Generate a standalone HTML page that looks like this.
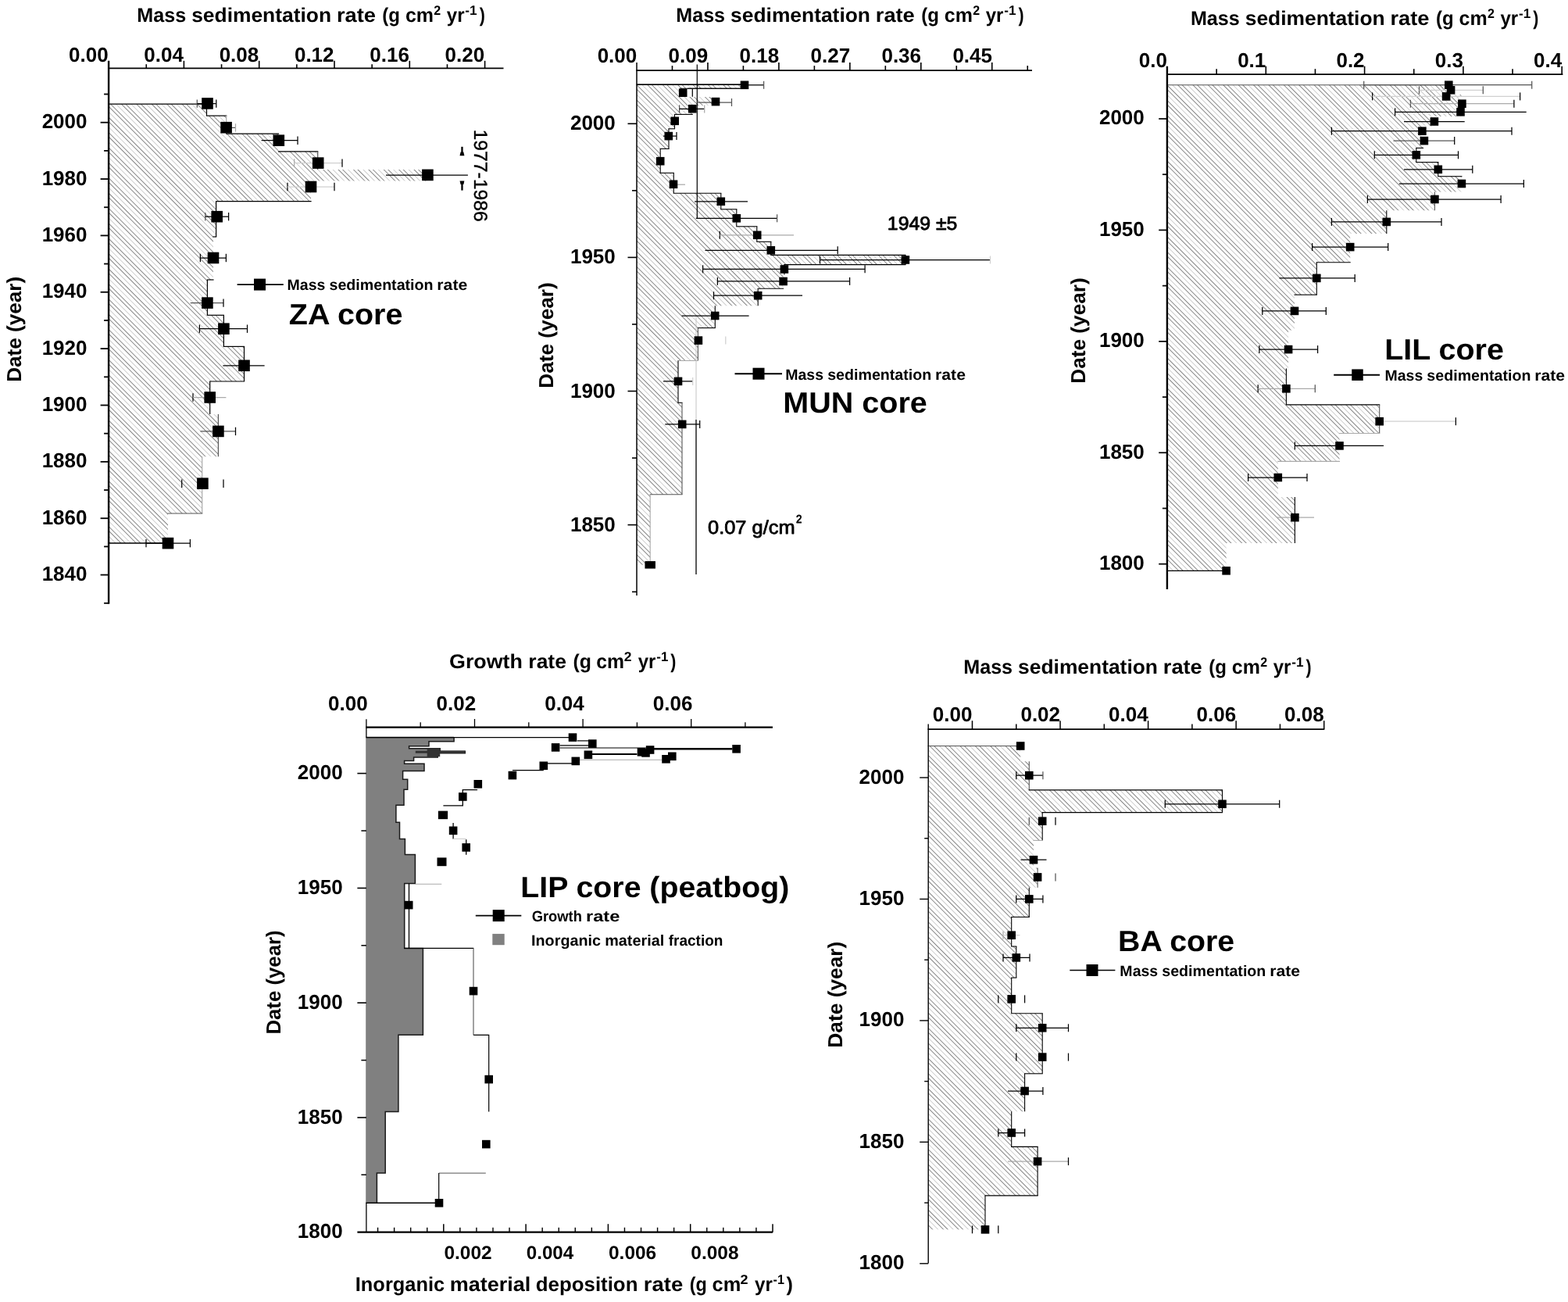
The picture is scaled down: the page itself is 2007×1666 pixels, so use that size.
<!DOCTYPE html>
<html lang="en"><head><meta charset="utf-8"><title>Sedimentation rate profiles</title>
<style>html,body{margin:0;padding:0;background:#fff;overflow:hidden;}svg{display:block;}text{font-family:"Liberation Sans",sans-serif;}</style></head>
<body>
<svg width="2007" height="1666" viewBox="0 0 2007 1666" font-family='"Liberation Sans", sans-serif' shape-rendering="auto" text-rendering="geometricPrecision"><defs><pattern id="h1" width="13.71" height="13.71" patternUnits="userSpaceOnUse" patternTransform="rotate(-45) translate(1.5 0)"><rect x="0" y="0" width="0.6" height="13.71" fill="#383838"/><rect x="4.3" y="0" width="0.6" height="13.71" fill="#383838"/><rect x="9" y="0" width="0.25" height="13.71" fill="#383838"/></pattern></defs>
<polygon points="139.1,133.2 264.5,133.2 264.5,148.1 289.7,148.1 289.7,171.2 356.5,171.2 356.5,193.9 406.7,193.9 406.7,217 547.5,217 547.5,231.4 398,231.4 398,257.7 276.6,257.7 276.6,303 273,303 273,358 265.4,358 265.4,403.3 286.4,403.3 286.4,443.4 312.5,443.4 312.5,488 268.7,488 268.7,530 279.4,530 279.4,584.3 258.7,584.3 258.7,657 215,657 215,695 139.1,695" fill="url(#h1)"/>
<line x1="138.5" y1="133.2" x2="265.1" y2="133.2" stroke="#000" stroke-width="1.2"/>
<line x1="264.5" y1="133.2" x2="264.5" y2="148.1" stroke="#000" stroke-width="1.2"/>
<line x1="263.9" y1="148.1" x2="290.3" y2="148.1" stroke="#000" stroke-width="1.2"/>
<line x1="289.7" y1="148.1" x2="289.7" y2="171.2" stroke="#aaa" stroke-width="1.2"/>
<line x1="289.1" y1="171.2" x2="357.1" y2="171.2" stroke="#000" stroke-width="1.2"/>
<line x1="355.9" y1="193.9" x2="407.3" y2="193.9" stroke="#000" stroke-width="1.2"/>
<line x1="406.7" y1="193.9" x2="406.7" y2="217" stroke="#555" stroke-width="1.2"/>
<line x1="276" y1="257.7" x2="398.6" y2="257.7" stroke="#000" stroke-width="1.2"/>
<line x1="276.6" y1="257.7" x2="276.6" y2="303" stroke="#000" stroke-width="1.2"/>
<line x1="272.4" y1="303" x2="277.2" y2="303" stroke="#000" stroke-width="1.2"/>
<line x1="264.8" y1="358" x2="273.6" y2="358" stroke="#000" stroke-width="1.2"/>
<line x1="265.4" y1="358" x2="265.4" y2="403.3" stroke="#000" stroke-width="1.2"/>
<line x1="264.8" y1="403.3" x2="287" y2="403.3" stroke="#000" stroke-width="1.2"/>
<line x1="286.4" y1="403.3" x2="286.4" y2="443.4" stroke="#000" stroke-width="1.2"/>
<line x1="285.8" y1="443.4" x2="313.1" y2="443.4" stroke="#000" stroke-width="1.2"/>
<line x1="312.5" y1="443.4" x2="312.5" y2="488" stroke="#000" stroke-width="1.2"/>
<line x1="268.1" y1="488" x2="313.1" y2="488" stroke="#000" stroke-width="1.2"/>
<line x1="268.7" y1="488" x2="268.7" y2="530" stroke="#000" stroke-width="1.2"/>
<line x1="279.4" y1="530" x2="279.4" y2="584.3" stroke="#555" stroke-width="1.2"/>
<line x1="258.7" y1="584.3" x2="258.7" y2="657" stroke="#aaa" stroke-width="1.2"/>
<line x1="214.4" y1="657" x2="259.3" y2="657" stroke="#555" stroke-width="1.2"/>
<line x1="139.1" y1="695" x2="215" y2="695" stroke="#000" stroke-width="1.3"/>
<line x1="139.1" y1="77.8" x2="139.1" y2="772.7" stroke="#000" stroke-width="2.4"/>
<line x1="128.6" y1="156.7" x2="139.1" y2="156.7" stroke="#000" stroke-width="1.8"/>
<line x1="128.6" y1="229.06" x2="139.1" y2="229.06" stroke="#000" stroke-width="1.8"/>
<line x1="128.6" y1="301.42" x2="139.1" y2="301.42" stroke="#000" stroke-width="1.8"/>
<line x1="128.6" y1="373.78" x2="139.1" y2="373.78" stroke="#000" stroke-width="1.8"/>
<line x1="128.6" y1="446.14" x2="139.1" y2="446.14" stroke="#000" stroke-width="1.8"/>
<line x1="128.6" y1="518.5" x2="139.1" y2="518.5" stroke="#000" stroke-width="1.8"/>
<line x1="128.6" y1="590.86" x2="139.1" y2="590.86" stroke="#000" stroke-width="1.8"/>
<line x1="128.6" y1="663.22" x2="139.1" y2="663.22" stroke="#000" stroke-width="1.8"/>
<line x1="128.6" y1="735.58" x2="139.1" y2="735.58" stroke="#000" stroke-width="1.8"/>
<line x1="133.1" y1="120.5" x2="139.1" y2="120.5" stroke="#000" stroke-width="1.8"/>
<line x1="133.1" y1="192.88" x2="139.1" y2="192.88" stroke="#000" stroke-width="1.8"/>
<line x1="133.1" y1="265.24" x2="139.1" y2="265.24" stroke="#000" stroke-width="1.8"/>
<line x1="133.1" y1="337.6" x2="139.1" y2="337.6" stroke="#000" stroke-width="1.8"/>
<line x1="133.1" y1="409.96" x2="139.1" y2="409.96" stroke="#000" stroke-width="1.8"/>
<line x1="133.1" y1="482.32" x2="139.1" y2="482.32" stroke="#000" stroke-width="1.8"/>
<line x1="133.1" y1="554.68" x2="139.1" y2="554.68" stroke="#000" stroke-width="1.8"/>
<line x1="133.1" y1="627.04" x2="139.1" y2="627.04" stroke="#000" stroke-width="1.8"/>
<line x1="133.1" y1="699.4" x2="139.1" y2="699.4" stroke="#000" stroke-width="1.8"/>
<line x1="133.1" y1="771.8" x2="139.1" y2="771.8" stroke="#000" stroke-width="1.8"/>
<text x="111.5" y="164.2" font-size="26" font-weight="bold" text-anchor="end" fill="#000">2000</text>
<text x="111.5" y="236.56" font-size="26" font-weight="bold" text-anchor="end" fill="#000">1980</text>
<text x="111.5" y="308.92" font-size="26" font-weight="bold" text-anchor="end" fill="#000">1960</text>
<text x="111.5" y="381.28" font-size="26" font-weight="bold" text-anchor="end" fill="#000">1940</text>
<text x="111.5" y="453.64" font-size="26" font-weight="bold" text-anchor="end" fill="#000">1920</text>
<text x="111.5" y="526" font-size="26" font-weight="bold" text-anchor="end" fill="#000">1900</text>
<text x="111.5" y="598.36" font-size="26" font-weight="bold" text-anchor="end" fill="#000">1880</text>
<text x="111.5" y="670.72" font-size="26" font-weight="bold" text-anchor="end" fill="#000">1860</text>
<text x="111.5" y="743.08" font-size="26" font-weight="bold" text-anchor="end" fill="#000">1840</text>
<line x1="138" y1="87.4" x2="644.5" y2="87.4" stroke="#000" stroke-width="1.8"/>
<line x1="235.4" y1="77.8" x2="235.4" y2="87.4" stroke="#000" stroke-width="1.6"/>
<line x1="331.7" y1="77.8" x2="331.7" y2="87.4" stroke="#000" stroke-width="1.6"/>
<line x1="428" y1="77.8" x2="428" y2="87.4" stroke="#000" stroke-width="1.6"/>
<line x1="524.3" y1="77.8" x2="524.3" y2="87.4" stroke="#000" stroke-width="1.6"/>
<line x1="620.6" y1="77.8" x2="620.6" y2="87.4" stroke="#000" stroke-width="1.6"/>
<line x1="187.25" y1="82.2" x2="187.25" y2="87.4" stroke="#000" stroke-width="1.6"/>
<line x1="283.55" y1="82.2" x2="283.55" y2="87.4" stroke="#000" stroke-width="1.6"/>
<line x1="379.85" y1="82.2" x2="379.85" y2="87.4" stroke="#000" stroke-width="1.6"/>
<line x1="476.15" y1="82.2" x2="476.15" y2="87.4" stroke="#000" stroke-width="1.6"/>
<line x1="572.45" y1="82.2" x2="572.45" y2="87.4" stroke="#000" stroke-width="1.6"/>
<text x="138.65" y="78.5" font-size="26" font-weight="bold" text-anchor="end" fill="#000">0.00</text>
<text x="234.95" y="78.5" font-size="26" font-weight="bold" text-anchor="end" fill="#000">0.04</text>
<text x="331.25" y="78.5" font-size="26" font-weight="bold" text-anchor="end" fill="#000">0.08</text>
<text x="427.55" y="78.5" font-size="26" font-weight="bold" text-anchor="end" fill="#000">0.12</text>
<text x="523.85" y="78.5" font-size="26" font-weight="bold" text-anchor="end" fill="#000">0.16</text>
<text x="620.15" y="78.5" font-size="26" font-weight="bold" text-anchor="end" fill="#000">0.20</text>
<line x1="252.3" y1="127.4" x2="252.3" y2="137.8" stroke="#555" stroke-width="1.25"/>
<line x1="252.3" y1="132.6" x2="276.8" y2="132.6" stroke="#000" stroke-width="1.25"/>
<line x1="276.8" y1="127.4" x2="276.8" y2="137.8" stroke="#000" stroke-width="1.25"/>
<line x1="283" y1="163.4" x2="301.5" y2="163.4" stroke="#555" stroke-width="1.25"/>
<line x1="301.5" y1="158.2" x2="301.5" y2="168.6" stroke="#aaa" stroke-width="1.25"/>
<line x1="334.6" y1="179.7" x2="381" y2="179.7" stroke="#000" stroke-width="1.25"/>
<line x1="381" y1="174.5" x2="381" y2="184.9" stroke="#000" stroke-width="1.25"/>
<line x1="376.6" y1="203.4" x2="376.6" y2="213.8" stroke="#aaa" stroke-width="1.25"/>
<line x1="376.6" y1="208.6" x2="438" y2="208.6" stroke="#d0d0d0" stroke-width="1.25"/>
<line x1="438" y1="203.4" x2="438" y2="213.8" stroke="#000" stroke-width="1.25"/>
<line x1="494" y1="224.2" x2="598.9" y2="224.2" stroke="#000" stroke-width="1.25"/>
<line x1="368" y1="233.8" x2="368" y2="244.2" stroke="#000" stroke-width="1.25"/>
<line x1="368" y1="239" x2="428" y2="239" stroke="#d0d0d0" stroke-width="1.25"/>
<line x1="428" y1="233.8" x2="428" y2="244.2" stroke="#000" stroke-width="1.25"/>
<line x1="262.8" y1="272" x2="262.8" y2="282.4" stroke="#555" stroke-width="1.25"/>
<line x1="262.8" y1="277.2" x2="292.6" y2="277.2" stroke="#000" stroke-width="1.25"/>
<line x1="292.6" y1="272" x2="292.6" y2="282.4" stroke="#000" stroke-width="1.25"/>
<line x1="256.4" y1="324.8" x2="256.4" y2="335.2" stroke="#000" stroke-width="1.25"/>
<line x1="256.4" y1="330" x2="289.4" y2="330" stroke="#000" stroke-width="1.25"/>
<line x1="289.4" y1="324.8" x2="289.4" y2="335.2" stroke="#000" stroke-width="1.25"/>
<line x1="243.7" y1="387.6" x2="286" y2="387.6" stroke="#555" stroke-width="1.25"/>
<line x1="286" y1="382.4" x2="286" y2="392.8" stroke="#000" stroke-width="1.25"/>
<line x1="255.4" y1="415.5" x2="255.4" y2="425.9" stroke="#000" stroke-width="1.25"/>
<line x1="255.4" y1="420.7" x2="316.5" y2="420.7" stroke="#000" stroke-width="1.25"/>
<line x1="316.5" y1="415.5" x2="316.5" y2="425.9" stroke="#000" stroke-width="1.25"/>
<line x1="285.4" y1="467.8" x2="338.6" y2="467.8" stroke="#000" stroke-width="1.25"/>
<line x1="247" y1="503.3" x2="247" y2="513.7" stroke="#000" stroke-width="1.25"/>
<line x1="247" y1="508.5" x2="289.4" y2="508.5" stroke="#aaa" stroke-width="1.25"/>
<line x1="256.4" y1="551.9" x2="301.5" y2="551.9" stroke="#555" stroke-width="1.25"/>
<line x1="301.5" y1="546.7" x2="301.5" y2="557.1" stroke="#000" stroke-width="1.25"/>
<line x1="232.7" y1="613.5" x2="232.7" y2="623.9" stroke="#000" stroke-width="1.25"/>
<line x1="286" y1="613.5" x2="286" y2="623.9" stroke="#000" stroke-width="1.25"/>
<line x1="187" y1="689.9" x2="187" y2="700.3" stroke="#000" stroke-width="1.25"/>
<line x1="187" y1="695.1" x2="243.4" y2="695.1" stroke="#000" stroke-width="1.25"/>
<line x1="243.4" y1="689.9" x2="243.4" y2="700.3" stroke="#000" stroke-width="1.25"/>
<rect x="258.2" y="125.1" width="14.6" height="14.6" fill="#000"/>
<rect x="282.3" y="155.9" width="14.6" height="14.6" fill="#000"/>
<rect x="349.5" y="172.4" width="14.6" height="14.6" fill="#000"/>
<rect x="399.9" y="201.3" width="14.6" height="14.6" fill="#000"/>
<rect x="540.1" y="216.6" width="14.6" height="14.6" fill="#000"/>
<rect x="390.7" y="231.7" width="14.6" height="14.6" fill="#000"/>
<rect x="270.4" y="269.9" width="14.6" height="14.6" fill="#000"/>
<rect x="265.7" y="322.7" width="14.6" height="14.6" fill="#000"/>
<rect x="258.1" y="380.3" width="14.6" height="14.6" fill="#000"/>
<rect x="279.1" y="413.4" width="14.6" height="14.6" fill="#000"/>
<rect x="305.2" y="460.5" width="14.6" height="14.6" fill="#000"/>
<rect x="261.4" y="501.2" width="14.6" height="14.6" fill="#000"/>
<rect x="272.1" y="544.6" width="14.6" height="14.6" fill="#000"/>
<rect x="252.1" y="611.4" width="14.6" height="14.6" fill="#000"/>
<rect x="207.7" y="687.8" width="14.6" height="14.6" fill="#000"/>
<text font-size="25.6" font-weight="bold" fill="#000" xml:space="preserve"><tspan x="175.33" y="28" textLength="62.89" lengthAdjust="spacingAndGlyphs">Mass</tspan> <tspan x="245.18" y="28" textLength="178.9" lengthAdjust="spacingAndGlyphs">sedimentation</tspan> <tspan x="430.9" y="28" textLength="49.98" lengthAdjust="spacingAndGlyphs">rate</tspan> <tspan x="489.37" y="28" textLength="22.66" lengthAdjust="spacingAndGlyphs">(g</tspan> <tspan x="518.92" y="28" textLength="36.11" lengthAdjust="spacingAndGlyphs">cm</tspan><tspan x="555.3" y="18.9" font-size="17" textLength="8.9" lengthAdjust="spacingAndGlyphs">2</tspan> <tspan x="571.8" y="28" textLength="22.74" lengthAdjust="spacingAndGlyphs">yr</tspan><tspan x="595.36" y="18.9" font-size="17" textLength="15.26" lengthAdjust="spacingAndGlyphs">-1</tspan><tspan x="613.7" y="28" textLength="7.07" lengthAdjust="spacingAndGlyphs">)</tspan></text>
<text x="26.8" y="488.83" font-size="26" font-weight="bold" textLength="134.98" lengthAdjust="spacingAndGlyphs" transform="rotate(-90 26.8 488.83)" fill="#000">Date (year)</text>
<line x1="303.6" y1="364.1" x2="362.8" y2="364.1" stroke="#000" stroke-width="1.9"/>
<rect x="325" y="356.6" width="15" height="15" fill="#000"/>
<text font-size="19.4" font-weight="bold" fill="#000" xml:space="preserve"><tspan x="367.58" y="371.3" textLength="48.81" lengthAdjust="spacingAndGlyphs">Mass</tspan> <tspan x="421.49" y="371.3" textLength="133.06" lengthAdjust="spacingAndGlyphs">sedimentation</tspan> <tspan x="559.38" y="371.3" textLength="38.85" lengthAdjust="spacingAndGlyphs">rate</tspan></text>
<text x="369.89" y="415.4" font-size="37.5" font-weight="bold" textLength="145.58" lengthAdjust="spacingAndGlyphs" fill="#000">ZA core</text>
<text x="606.8" y="165.55" font-size="24" font-weight="normal" textLength="118.25" lengthAdjust="spacingAndGlyphs" transform="rotate(90 606.8 165.55)" fill="#000" stroke="#000" stroke-width="0.4" stroke-linejoin="round">1977-1986</text>
<rect x="590.3" y="187.8" width="2.3" height="7.5" fill="#000"/>
<polygon points="589.6,194.4 593.3,194.4 594.4,199.3 588.5,199.3" fill="#000"/>
<polygon points="588.5,231.5 594.4,231.5 593.3,235.9 589.6,235.9" fill="#000"/>
<rect x="590.3" y="235.5" width="2.3" height="8.1" fill="#000"/>
<polygon points="815,108.3 953,108.3 953,113.3 871,113.3 871,124 913,124 913,135 886.3,135 886.3,146.4 863.5,146.4 863.5,164.8 856,164.8 856,190.4 845.2,190.4 845.2,221.3 862.3,221.3 862.3,247.3 922.8,247.3 922.8,267.8 942.8,267.8 942.8,289.8 968.8,289.8 968.8,309.3 986.8,309.3 986.8,326.4 1158.9,326.4 1158.9,338.6 1003.9,338.6 1003.9,351.6 1002.6,351.6 1002.6,369.2 970.2,369.2 970.2,391.2 915.3,391.2 915.3,419.6 893.4,419.6 893.4,461.5 868,461.5 868,515.3 873,515.3 873,632.7 832.2,632.7 832.2,722.8 815,722.8" fill="url(#h1)"/>
<line x1="814.45" y1="108.3" x2="953.55" y2="108.3" stroke="#000" stroke-width="1.1"/>
<line x1="870.45" y1="113.3" x2="953.55" y2="113.3" stroke="#000" stroke-width="1.1"/>
<line x1="862.95" y1="146.4" x2="886.85" y2="146.4" stroke="#000" stroke-width="1.1"/>
<line x1="863.5" y1="146.4" x2="863.5" y2="164.8" stroke="#000" stroke-width="1.1"/>
<line x1="855.45" y1="164.8" x2="864.05" y2="164.8" stroke="#000" stroke-width="1.1"/>
<line x1="856" y1="164.8" x2="856" y2="190.4" stroke="#000" stroke-width="1.1"/>
<line x1="844.65" y1="190.4" x2="856.55" y2="190.4" stroke="#000" stroke-width="1.1"/>
<line x1="845.2" y1="190.4" x2="845.2" y2="221.3" stroke="#000" stroke-width="1.1"/>
<line x1="844.65" y1="221.3" x2="862.85" y2="221.3" stroke="#000" stroke-width="1.1"/>
<line x1="862.3" y1="221.3" x2="862.3" y2="247.3" stroke="#000" stroke-width="1.1"/>
<line x1="861.75" y1="247.3" x2="923.35" y2="247.3" stroke="#000" stroke-width="1.1"/>
<line x1="922.8" y1="247.3" x2="922.8" y2="267.8" stroke="#000" stroke-width="1.1"/>
<line x1="922.25" y1="267.8" x2="943.35" y2="267.8" stroke="#000" stroke-width="1.1"/>
<line x1="942.8" y1="267.8" x2="942.8" y2="289.8" stroke="#000" stroke-width="1.1"/>
<line x1="942.25" y1="289.8" x2="969.35" y2="289.8" stroke="#000" stroke-width="1.1"/>
<line x1="968.8" y1="289.8" x2="968.8" y2="309.3" stroke="#000" stroke-width="1.1"/>
<line x1="968.25" y1="309.3" x2="987.35" y2="309.3" stroke="#000" stroke-width="1.1"/>
<line x1="986.8" y1="309.3" x2="986.8" y2="326.4" stroke="#000" stroke-width="1.1"/>
<line x1="986.25" y1="326.4" x2="1159.45" y2="326.4" stroke="#000" stroke-width="1.1"/>
<line x1="1158.9" y1="326.4" x2="1158.9" y2="338.6" stroke="#000" stroke-width="1.1"/>
<line x1="1003.35" y1="338.6" x2="1159.45" y2="338.6" stroke="#000" stroke-width="1.1"/>
<line x1="1003.9" y1="338.6" x2="1003.9" y2="351.6" stroke="#000" stroke-width="1.1"/>
<line x1="969.65" y1="369.2" x2="1003.15" y2="369.2" stroke="#000" stroke-width="1.1"/>
<line x1="970.2" y1="369.2" x2="970.2" y2="391.2" stroke="#000" stroke-width="1.1"/>
<line x1="915.3" y1="391.2" x2="915.3" y2="419.6" stroke="#000" stroke-width="1.1"/>
<line x1="892.85" y1="419.6" x2="915.85" y2="419.6" stroke="#000" stroke-width="1.1"/>
<line x1="893.4" y1="419.6" x2="893.4" y2="461.5" stroke="#555" stroke-width="1.1"/>
<line x1="867.45" y1="461.5" x2="893.95" y2="461.5" stroke="#aaa" stroke-width="1.1"/>
<line x1="868" y1="461.5" x2="868" y2="515.3" stroke="#000" stroke-width="1.1"/>
<line x1="867.45" y1="515.3" x2="873.55" y2="515.3" stroke="#000" stroke-width="1.1"/>
<line x1="873" y1="515.3" x2="873" y2="632.7" stroke="#555" stroke-width="1.1"/>
<line x1="831.65" y1="632.7" x2="873.55" y2="632.7" stroke="#555" stroke-width="1.1"/>
<line x1="832.2" y1="632.7" x2="832.2" y2="722.8" stroke="#aaa" stroke-width="1.1"/>
<line x1="880" y1="113.3" x2="947.5" y2="113.3" stroke="#000" stroke-width="1.1"/>
<line x1="815" y1="108.3" x2="948" y2="108.3" stroke="#000" stroke-width="1.6"/>
<line x1="892.3" y1="82.6" x2="892.3" y2="279" stroke="#000" stroke-width="1.2"/>
<line x1="891" y1="404" x2="891" y2="537" stroke="#c4c4c4" stroke-width="1"/>
<line x1="891" y1="537" x2="891" y2="735" stroke="#222" stroke-width="1.5"/>
<line x1="815" y1="80" x2="815" y2="762" stroke="#000" stroke-width="1.5"/>
<line x1="803.5" y1="158.3" x2="815" y2="158.3" stroke="#000" stroke-width="1.6"/>
<line x1="803.5" y1="329.4" x2="815" y2="329.4" stroke="#000" stroke-width="1.6"/>
<line x1="803.5" y1="500.5" x2="815" y2="500.5" stroke="#000" stroke-width="1.6"/>
<line x1="803.5" y1="671.6" x2="815" y2="671.6" stroke="#000" stroke-width="1.6"/>
<line x1="809" y1="243.85" x2="815" y2="243.85" stroke="#000" stroke-width="1.6"/>
<line x1="809" y1="414.95" x2="815" y2="414.95" stroke="#000" stroke-width="1.6"/>
<line x1="809" y1="586.05" x2="815" y2="586.05" stroke="#000" stroke-width="1.6"/>
<line x1="809" y1="757.3" x2="815" y2="757.3" stroke="#000" stroke-width="1.6"/>
<text x="787.8" y="166.3" font-size="26" font-weight="bold" text-anchor="end" fill="#000">2000</text>
<text x="787.8" y="337.4" font-size="26" font-weight="bold" text-anchor="end" fill="#000">1950</text>
<text x="787.8" y="508.5" font-size="26" font-weight="bold" text-anchor="end" fill="#000">1900</text>
<text x="787.8" y="679.6" font-size="26" font-weight="bold" text-anchor="end" fill="#000">1850</text>
<line x1="814.3" y1="90.1" x2="1321" y2="90.1" stroke="#000" stroke-width="1.6"/>
<line x1="905.95" y1="79.9" x2="905.95" y2="90.1" stroke="#000" stroke-width="1.6"/>
<line x1="996.9" y1="79.9" x2="996.9" y2="90.1" stroke="#000" stroke-width="1.6"/>
<line x1="1087.85" y1="79.9" x2="1087.85" y2="90.1" stroke="#000" stroke-width="1.6"/>
<line x1="1178.8" y1="79.9" x2="1178.8" y2="90.1" stroke="#000" stroke-width="1.6"/>
<line x1="1269.75" y1="79.9" x2="1269.75" y2="90.1" stroke="#000" stroke-width="1.6"/>
<line x1="860.48" y1="84.1" x2="860.48" y2="90.1" stroke="#000" stroke-width="1.6"/>
<line x1="951.42" y1="84.1" x2="951.42" y2="90.1" stroke="#000" stroke-width="1.6"/>
<line x1="1042.38" y1="84.1" x2="1042.38" y2="90.1" stroke="#000" stroke-width="1.6"/>
<line x1="1133.32" y1="84.1" x2="1133.32" y2="90.1" stroke="#000" stroke-width="1.6"/>
<line x1="1224.28" y1="84.1" x2="1224.28" y2="90.1" stroke="#000" stroke-width="1.6"/>
<line x1="1315.25" y1="84.1" x2="1315.25" y2="90.1" stroke="#000" stroke-width="1.6"/>
<text x="815.25" y="80.4" font-size="26" font-weight="bold" text-anchor="end" fill="#000">0.00</text>
<text x="906.2" y="80.4" font-size="26" font-weight="bold" text-anchor="end" fill="#000">0.09</text>
<text x="997.15" y="80.4" font-size="26" font-weight="bold" text-anchor="end" fill="#000">0.18</text>
<text x="1088.1" y="80.4" font-size="26" font-weight="bold" text-anchor="end" fill="#000">0.27</text>
<text x="1179.05" y="80.4" font-size="26" font-weight="bold" text-anchor="end" fill="#000">0.36</text>
<text x="1270" y="80.4" font-size="26" font-weight="bold" text-anchor="end" fill="#000">0.45</text>
<line x1="953" y1="108.8" x2="977.6" y2="108.8" stroke="#000" stroke-width="1.25"/>
<line x1="977.6" y1="103.8" x2="977.6" y2="113.8" stroke="#555" stroke-width="1.25"/>
<line x1="886.3" y1="113.8" x2="886.3" y2="123.8" stroke="#000" stroke-width="1.25"/>
<line x1="892.3" y1="131" x2="936.5" y2="131" stroke="#555" stroke-width="1.25"/>
<line x1="936.5" y1="126" x2="936.5" y2="136" stroke="#555" stroke-width="1.25"/>
<line x1="869.6" y1="134.4" x2="869.6" y2="144.4" stroke="#555" stroke-width="1.25"/>
<line x1="869.6" y1="139.4" x2="901.7" y2="139.4" stroke="#000" stroke-width="1.25"/>
<line x1="901.7" y1="134.4" x2="901.7" y2="144.4" stroke="#aaa" stroke-width="1.25"/>
<line x1="849" y1="174.1" x2="866" y2="174.1" stroke="#000" stroke-width="1.25"/>
<line x1="866" y1="169.1" x2="866" y2="179.1" stroke="#000" stroke-width="1.25"/>
<line x1="862" y1="236.2" x2="877" y2="236.2" stroke="#aaa" stroke-width="1.25"/>
<line x1="889.1" y1="257.8" x2="957" y2="257.8" stroke="#000" stroke-width="1.25"/>
<line x1="890.8" y1="279.3" x2="994.6" y2="279.3" stroke="#000" stroke-width="1.25"/>
<line x1="994.6" y1="274.3" x2="994.6" y2="284.3" stroke="#555" stroke-width="1.25"/>
<line x1="921.3" y1="295.8" x2="921.3" y2="305.8" stroke="#000" stroke-width="1.25"/>
<line x1="921.3" y1="300.8" x2="1016" y2="300.8" stroke="#aaa" stroke-width="1.25"/>
<line x1="902.5" y1="320.3" x2="1072.2" y2="320.3" stroke="#000" stroke-width="1.25"/>
<line x1="1072.2" y1="315.3" x2="1072.2" y2="325.3" stroke="#000" stroke-width="1.25"/>
<line x1="1049.5" y1="327.5" x2="1049.5" y2="337.5" stroke="#000" stroke-width="1.25"/>
<line x1="1049.5" y1="332.5" x2="1267.5" y2="332.5" stroke="#000" stroke-width="1.25"/>
<line x1="1267.5" y1="327.5" x2="1267.5" y2="337.5" stroke="#d0d0d0" stroke-width="1.25"/>
<line x1="899.6" y1="339.3" x2="899.6" y2="349.3" stroke="#000" stroke-width="1.25"/>
<line x1="899.6" y1="344.3" x2="1107.1" y2="344.3" stroke="#000" stroke-width="1.25"/>
<line x1="1107.1" y1="339.3" x2="1107.1" y2="349.3" stroke="#000" stroke-width="1.25"/>
<line x1="918.4" y1="354.9" x2="918.4" y2="364.9" stroke="#000" stroke-width="1.25"/>
<line x1="918.4" y1="359.9" x2="1087.6" y2="359.9" stroke="#000" stroke-width="1.25"/>
<line x1="1087.6" y1="354.9" x2="1087.6" y2="364.9" stroke="#000" stroke-width="1.25"/>
<line x1="913.5" y1="373.2" x2="913.5" y2="383.2" stroke="#000" stroke-width="1.25"/>
<line x1="913.5" y1="378.2" x2="1027" y2="378.2" stroke="#000" stroke-width="1.25"/>
<line x1="872.5" y1="404.1" x2="958.6" y2="404.1" stroke="#000" stroke-width="1.25"/>
<line x1="928.8" y1="430.6" x2="928.8" y2="440.6" stroke="#d0d0d0" stroke-width="1.25"/>
<line x1="849" y1="487.9" x2="886.7" y2="487.9" stroke="#000" stroke-width="1.25"/>
<line x1="886.7" y1="482.9" x2="886.7" y2="492.9" stroke="#d0d0d0" stroke-width="1.25"/>
<line x1="851.3" y1="542.9" x2="895.7" y2="542.9" stroke="#000" stroke-width="1.25"/>
<line x1="895.7" y1="537.9" x2="895.7" y2="547.9" stroke="#000" stroke-width="1.25"/>
<rect x="947.7" y="103.5" width="10.6" height="10.6" fill="#000"/>
<rect x="868.9" y="113.4" width="10.6" height="10.6" fill="#000"/>
<rect x="910.7" y="124.8" width="10.6" height="10.6" fill="#000"/>
<rect x="881" y="133.9" width="10.6" height="10.6" fill="#000"/>
<rect x="858.4" y="149.5" width="10.6" height="10.6" fill="#000"/>
<rect x="850.5" y="168.8" width="10.6" height="10.6" fill="#000"/>
<rect x="839.9" y="200.9" width="10.6" height="10.6" fill="#000"/>
<rect x="856.7" y="230.5" width="10.6" height="10.6" fill="#000"/>
<rect x="917.5" y="252.5" width="10.6" height="10.6" fill="#000"/>
<rect x="937.5" y="274" width="10.6" height="10.6" fill="#000"/>
<rect x="963.9" y="295.5" width="10.6" height="10.6" fill="#000"/>
<rect x="981.5" y="315" width="10.6" height="10.6" fill="#000"/>
<rect x="1153.6" y="327.2" width="10.6" height="10.6" fill="#000"/>
<rect x="998.6" y="339.2" width="10.6" height="10.6" fill="#000"/>
<rect x="997.3" y="354.7" width="10.6" height="10.6" fill="#000"/>
<rect x="964.9" y="372.9" width="10.6" height="10.6" fill="#000"/>
<rect x="909.9" y="398.7" width="10.6" height="10.6" fill="#000"/>
<rect x="888.6" y="430.3" width="10.6" height="10.6" fill="#000"/>
<rect x="862.7" y="482.6" width="10.6" height="10.6" fill="#000"/>
<rect x="867.9" y="537.6" width="10.6" height="10.6" fill="#000"/>
<rect x="825.45" y="718.05" width="13.5" height="9.5" fill="#000"/>
<text font-size="25.6" font-weight="bold" fill="#000" xml:space="preserve"><tspan x="865.23" y="28" textLength="62.89" lengthAdjust="spacingAndGlyphs">Mass</tspan> <tspan x="935.08" y="28" textLength="178.9" lengthAdjust="spacingAndGlyphs">sedimentation</tspan> <tspan x="1120.8" y="28" textLength="49.98" lengthAdjust="spacingAndGlyphs">rate</tspan> <tspan x="1179.27" y="28" textLength="22.66" lengthAdjust="spacingAndGlyphs">(g</tspan> <tspan x="1208.82" y="28" textLength="36.11" lengthAdjust="spacingAndGlyphs">cm</tspan><tspan x="1245.2" y="18.9" font-size="17" textLength="8.9" lengthAdjust="spacingAndGlyphs">2</tspan> <tspan x="1261.7" y="28" textLength="22.74" lengthAdjust="spacingAndGlyphs">yr</tspan><tspan x="1285.26" y="18.9" font-size="17" textLength="15.26" lengthAdjust="spacingAndGlyphs">-1</tspan><tspan x="1303.6" y="28" textLength="7.07" lengthAdjust="spacingAndGlyphs">)</tspan></text>
<text x="708.1" y="496.74" font-size="26" font-weight="bold" textLength="135.49" lengthAdjust="spacingAndGlyphs" transform="rotate(-90 708.1 496.74)" fill="#000">Date (year)</text>
<line x1="940.5" y1="478.2" x2="1001" y2="478.2" stroke="#000" stroke-width="1.9"/>
<rect x="963.5" y="470.7" width="15" height="15" fill="#000"/>
<text font-size="19.4" font-weight="bold" fill="#000" xml:space="preserve"><tspan x="1005.28" y="486.2" textLength="48.81" lengthAdjust="spacingAndGlyphs">Mass</tspan> <tspan x="1059.19" y="486.2" textLength="133.06" lengthAdjust="spacingAndGlyphs">sedimentation</tspan> <tspan x="1197.08" y="486.2" textLength="38.85" lengthAdjust="spacingAndGlyphs">rate</tspan></text>
<text x="1002.33" y="527.9" font-size="37.5" font-weight="bold" textLength="184.45" lengthAdjust="spacingAndGlyphs" fill="#000">MUN core</text>
<text x="1135.85" y="293.8" font-size="24.2" font-weight="normal" textLength="89.45" lengthAdjust="spacingAndGlyphs" fill="#000" stroke="#000" stroke-width="0.85" stroke-linejoin="round">1949 ±5</text>
<text font-size="24.2" font-weight="normal" fill="#000" stroke="#000" stroke-width="0.8" stroke-linejoin="round" xml:space="preserve"><tspan x="906.01" y="683.3" textLength="111.61" lengthAdjust="spacingAndGlyphs">0.07 g/cm</tspan><tspan x="1018.88" y="668.5" font-size="14.5" textLength="7.36" lengthAdjust="spacingAndGlyphs">2</tspan></text>
<polygon points="1493.9,108.7 1854.3,108.7 1854.3,121 1870.5,121 1870.5,149 1836,149 1836,161.5 1821.5,161.5 1821.5,189.4 1812.8,189.4 1812.8,207.6 1840.8,207.6 1840.8,225.7 1870.9,225.7 1870.9,245.6 1836.4,245.6 1836.4,269.2 1774.8,269.2 1774.8,299.1 1728.2,299.1 1728.2,335.7 1685.3,335.7 1685.3,377.2 1657,377.2 1657,422.5 1649.1,422.5 1649.1,471.4 1646.4,471.4 1646.4,517.9 1765.7,517.9 1765.7,554.5 1714.5,554.5 1714.5,590.4 1635.8,590.4 1635.8,635.9 1657.4,635.9 1657.4,695.1 1569.6,695.1 1569.6,730.3 1493.9,730.3" fill="url(#h1)"/>
<line x1="1493.35" y1="108.7" x2="1854.85" y2="108.7" stroke="#555" stroke-width="1.1"/>
<line x1="1812.25" y1="189.4" x2="1822.05" y2="189.4" stroke="#000" stroke-width="1.1"/>
<line x1="1812.8" y1="189.4" x2="1812.8" y2="207.6" stroke="#000" stroke-width="1.1"/>
<line x1="1812.25" y1="207.6" x2="1841.35" y2="207.6" stroke="#000" stroke-width="1.1"/>
<line x1="1840.8" y1="207.6" x2="1840.8" y2="225.7" stroke="#000" stroke-width="1.1"/>
<line x1="1840.25" y1="225.7" x2="1871.45" y2="225.7" stroke="#000" stroke-width="1.1"/>
<line x1="1836.4" y1="245.6" x2="1836.4" y2="269.2" stroke="#555" stroke-width="1.1"/>
<line x1="1774.8" y1="269.2" x2="1774.8" y2="299.1" stroke="#000" stroke-width="1.1"/>
<line x1="1684.75" y1="335.7" x2="1728.75" y2="335.7" stroke="#000" stroke-width="1.1"/>
<line x1="1685.3" y1="335.7" x2="1685.3" y2="377.2" stroke="#000" stroke-width="1.1"/>
<line x1="1656.45" y1="377.2" x2="1685.85" y2="377.2" stroke="#000" stroke-width="1.1"/>
<line x1="1646.4" y1="471.4" x2="1646.4" y2="517.9" stroke="#000" stroke-width="1.1"/>
<line x1="1645.85" y1="517.9" x2="1766.25" y2="517.9" stroke="#000" stroke-width="1.1"/>
<line x1="1765.7" y1="517.9" x2="1765.7" y2="554.5" stroke="#555" stroke-width="1.1"/>
<line x1="1713.95" y1="554.5" x2="1766.25" y2="554.5" stroke="#aaa" stroke-width="1.1"/>
<line x1="1635.25" y1="590.4" x2="1715.05" y2="590.4" stroke="#aaa" stroke-width="1.1"/>
<line x1="1657.4" y1="635.9" x2="1657.4" y2="695.1" stroke="#000" stroke-width="1.1"/>
<line x1="1493.9" y1="730.3" x2="1569.6" y2="730.3" stroke="#000" stroke-width="1.3"/>
<line x1="1493.9" y1="84.7" x2="1493.9" y2="754" stroke="#000" stroke-width="2.4"/>
<line x1="1483.2" y1="152" x2="1493.9" y2="152" stroke="#000" stroke-width="1.7"/>
<line x1="1483.2" y1="294.42" x2="1493.9" y2="294.42" stroke="#000" stroke-width="1.7"/>
<line x1="1483.2" y1="436.84" x2="1493.9" y2="436.84" stroke="#000" stroke-width="1.7"/>
<line x1="1483.2" y1="579.26" x2="1493.9" y2="579.26" stroke="#000" stroke-width="1.7"/>
<line x1="1483.2" y1="721.68" x2="1493.9" y2="721.68" stroke="#000" stroke-width="1.7"/>
<line x1="1487.9" y1="223.21" x2="1493.9" y2="223.21" stroke="#000" stroke-width="1.7"/>
<line x1="1487.9" y1="365.63" x2="1493.9" y2="365.63" stroke="#000" stroke-width="1.7"/>
<line x1="1487.9" y1="508.05" x2="1493.9" y2="508.05" stroke="#000" stroke-width="1.7"/>
<line x1="1487.9" y1="650.47" x2="1493.9" y2="650.47" stroke="#000" stroke-width="1.7"/>
<text x="1464.8" y="159.3" font-size="26" font-weight="bold" text-anchor="end" fill="#000">2000</text>
<text x="1464.8" y="301.72" font-size="26" font-weight="bold" text-anchor="end" fill="#000">1950</text>
<text x="1464.8" y="444.14" font-size="26" font-weight="bold" text-anchor="end" fill="#000">1900</text>
<text x="1464.8" y="586.56" font-size="26" font-weight="bold" text-anchor="end" fill="#000">1850</text>
<text x="1464.8" y="728.98" font-size="26" font-weight="bold" text-anchor="end" fill="#000">1800</text>
<line x1="1493" y1="95.2" x2="2000.4" y2="95.2" stroke="#000" stroke-width="1.7"/>
<line x1="1620.3" y1="84.7" x2="1620.3" y2="95.2" stroke="#000" stroke-width="1.6"/>
<line x1="1746.6" y1="84.7" x2="1746.6" y2="95.2" stroke="#000" stroke-width="1.6"/>
<line x1="1872.9" y1="84.7" x2="1872.9" y2="95.2" stroke="#000" stroke-width="1.6"/>
<line x1="1999.2" y1="84.7" x2="1999.2" y2="95.2" stroke="#000" stroke-width="1.6"/>
<line x1="1557.15" y1="88.2" x2="1557.15" y2="95.2" stroke="#000" stroke-width="1.6"/>
<line x1="1683.45" y1="88.2" x2="1683.45" y2="95.2" stroke="#000" stroke-width="1.6"/>
<line x1="1809.75" y1="88.2" x2="1809.75" y2="95.2" stroke="#000" stroke-width="1.6"/>
<line x1="1936.05" y1="88.2" x2="1936.05" y2="95.2" stroke="#000" stroke-width="1.6"/>
<text x="1494" y="85.5" font-size="26" font-weight="bold" text-anchor="end" fill="#000">0.0</text>
<text x="1620.3" y="85.5" font-size="26" font-weight="bold" text-anchor="end" fill="#000">0.1</text>
<text x="1746.6" y="85.5" font-size="26" font-weight="bold" text-anchor="end" fill="#000">0.2</text>
<text x="1872.9" y="85.5" font-size="26" font-weight="bold" text-anchor="end" fill="#000">0.3</text>
<text x="1999.2" y="85.5" font-size="26" font-weight="bold" text-anchor="end" fill="#000">0.4</text>
<line x1="1745.7" y1="103.7" x2="1745.7" y2="113.7" stroke="#555" stroke-width="1.25"/>
<line x1="1745.7" y1="108.7" x2="1960.7" y2="108.7" stroke="#555" stroke-width="1.25"/>
<line x1="1960.7" y1="103.7" x2="1960.7" y2="113.7" stroke="#555" stroke-width="1.25"/>
<line x1="1816.5" y1="110.3" x2="1816.5" y2="120.3" stroke="#555" stroke-width="1.25"/>
<line x1="1816.5" y1="115.3" x2="1898.3" y2="115.3" stroke="#d0d0d0" stroke-width="1.25"/>
<line x1="1898.3" y1="110.3" x2="1898.3" y2="120.3" stroke="#555" stroke-width="1.25"/>
<line x1="1756.6" y1="118.4" x2="1756.6" y2="128.4" stroke="#000" stroke-width="1.25"/>
<line x1="1756.6" y1="123.4" x2="1945.6" y2="123.4" stroke="#d0d0d0" stroke-width="1.25"/>
<line x1="1945.6" y1="118.4" x2="1945.6" y2="128.4" stroke="#000" stroke-width="1.25"/>
<line x1="1805.4" y1="127.7" x2="1805.4" y2="137.7" stroke="#555" stroke-width="1.25"/>
<line x1="1805.4" y1="132.7" x2="1937.9" y2="132.7" stroke="#aaa" stroke-width="1.25"/>
<line x1="1937.9" y1="127.7" x2="1937.9" y2="137.7" stroke="#000" stroke-width="1.25"/>
<line x1="1785.6" y1="138.3" x2="1785.6" y2="148.3" stroke="#000" stroke-width="1.25"/>
<line x1="1785.6" y1="143.3" x2="1953.7" y2="143.3" stroke="#000" stroke-width="1.25"/>
<line x1="1797" y1="155.5" x2="1874.7" y2="155.5" stroke="#000" stroke-width="1.25"/>
<line x1="1704.4" y1="162.7" x2="1704.4" y2="172.7" stroke="#000" stroke-width="1.25"/>
<line x1="1704.4" y1="167.7" x2="1935" y2="167.7" stroke="#000" stroke-width="1.25"/>
<line x1="1935" y1="162.7" x2="1935" y2="172.7" stroke="#000" stroke-width="1.25"/>
<line x1="1783.5" y1="180.1" x2="1861.7" y2="180.1" stroke="#555" stroke-width="1.25"/>
<line x1="1861.7" y1="175.1" x2="1861.7" y2="185.1" stroke="#000" stroke-width="1.25"/>
<line x1="1759.3" y1="193.3" x2="1759.3" y2="203.3" stroke="#000" stroke-width="1.25"/>
<line x1="1759.3" y1="198.3" x2="1866.5" y2="198.3" stroke="#000" stroke-width="1.25"/>
<line x1="1866.5" y1="193.3" x2="1866.5" y2="203.3" stroke="#000" stroke-width="1.25"/>
<line x1="1797" y1="216.8" x2="1884.8" y2="216.8" stroke="#000" stroke-width="1.25"/>
<line x1="1884.8" y1="211.8" x2="1884.8" y2="221.8" stroke="#000" stroke-width="1.25"/>
<line x1="1790.8" y1="235" x2="1950.4" y2="235" stroke="#000" stroke-width="1.25"/>
<line x1="1950.4" y1="230" x2="1950.4" y2="240" stroke="#000" stroke-width="1.25"/>
<line x1="1750.4" y1="250" x2="1750.4" y2="260" stroke="#000" stroke-width="1.25"/>
<line x1="1750.4" y1="255" x2="1921.1" y2="255" stroke="#000" stroke-width="1.25"/>
<line x1="1921.1" y1="250" x2="1921.1" y2="260" stroke="#000" stroke-width="1.25"/>
<line x1="1704.4" y1="278.9" x2="1704.4" y2="288.9" stroke="#000" stroke-width="1.25"/>
<line x1="1704.4" y1="283.9" x2="1845" y2="283.9" stroke="#000" stroke-width="1.25"/>
<line x1="1845" y1="278.9" x2="1845" y2="288.9" stroke="#000" stroke-width="1.25"/>
<line x1="1679.6" y1="311.1" x2="1679.6" y2="321.1" stroke="#000" stroke-width="1.25"/>
<line x1="1679.6" y1="316.1" x2="1776.7" y2="316.1" stroke="#000" stroke-width="1.25"/>
<line x1="1776.7" y1="311.1" x2="1776.7" y2="321.1" stroke="#000" stroke-width="1.25"/>
<line x1="1637.4" y1="355.9" x2="1734.2" y2="355.9" stroke="#000" stroke-width="1.25"/>
<line x1="1734.2" y1="350.9" x2="1734.2" y2="360.9" stroke="#000" stroke-width="1.25"/>
<line x1="1615.8" y1="392.9" x2="1615.8" y2="402.9" stroke="#000" stroke-width="1.25"/>
<line x1="1615.8" y1="397.9" x2="1697.3" y2="397.9" stroke="#000" stroke-width="1.25"/>
<line x1="1697.3" y1="392.9" x2="1697.3" y2="402.9" stroke="#000" stroke-width="1.25"/>
<line x1="1611.9" y1="442.1" x2="1611.9" y2="452.1" stroke="#000" stroke-width="1.25"/>
<line x1="1611.9" y1="447.1" x2="1686.6" y2="447.1" stroke="#000" stroke-width="1.25"/>
<line x1="1686.6" y1="442.1" x2="1686.6" y2="452.1" stroke="#000" stroke-width="1.25"/>
<line x1="1610.2" y1="492.3" x2="1610.2" y2="502.3" stroke="#000" stroke-width="1.25"/>
<line x1="1610.2" y1="497.3" x2="1683.3" y2="497.3" stroke="#aaa" stroke-width="1.25"/>
<line x1="1683.3" y1="492.3" x2="1683.3" y2="502.3" stroke="#555" stroke-width="1.25"/>
<line x1="1765.7" y1="539.2" x2="1863.4" y2="539.2" stroke="#d0d0d0" stroke-width="1.25"/>
<line x1="1863.4" y1="534.2" x2="1863.4" y2="544.2" stroke="#000" stroke-width="1.25"/>
<line x1="1657.4" y1="565.4" x2="1657.4" y2="575.4" stroke="#000" stroke-width="1.25"/>
<line x1="1657.4" y1="570.4" x2="1771" y2="570.4" stroke="#000" stroke-width="1.25"/>
<line x1="1597.6" y1="606" x2="1597.6" y2="616" stroke="#000" stroke-width="1.25"/>
<line x1="1597.6" y1="611" x2="1673" y2="611" stroke="#000" stroke-width="1.25"/>
<line x1="1673" y1="606" x2="1673" y2="616" stroke="#000" stroke-width="1.25"/>
<line x1="1634" y1="662.2" x2="1682" y2="662.2" stroke="#aaa" stroke-width="1.25"/>
<rect x="1849" y="103.4" width="10.6" height="10.6" fill="#000"/>
<rect x="1851.8" y="110" width="10.6" height="10.6" fill="#000"/>
<rect x="1845.8" y="118.1" width="10.6" height="10.6" fill="#000"/>
<rect x="1866.1" y="127.4" width="10.6" height="10.6" fill="#000"/>
<rect x="1864.2" y="138" width="10.6" height="10.6" fill="#000"/>
<rect x="1830.6" y="150.2" width="10.6" height="10.6" fill="#000"/>
<rect x="1815.1" y="162.4" width="10.6" height="10.6" fill="#000"/>
<rect x="1817.6" y="174.8" width="10.6" height="10.6" fill="#000"/>
<rect x="1807.5" y="193" width="10.6" height="10.6" fill="#000"/>
<rect x="1835.5" y="211.5" width="10.6" height="10.6" fill="#000"/>
<rect x="1865.6" y="229.7" width="10.6" height="10.6" fill="#000"/>
<rect x="1831.1" y="249.7" width="10.6" height="10.6" fill="#000"/>
<rect x="1769.5" y="278.6" width="10.6" height="10.6" fill="#000"/>
<rect x="1722.9" y="310.8" width="10.6" height="10.6" fill="#000"/>
<rect x="1680" y="350.6" width="10.6" height="10.6" fill="#000"/>
<rect x="1651.7" y="392.6" width="10.6" height="10.6" fill="#000"/>
<rect x="1643.8" y="441.8" width="10.6" height="10.6" fill="#000"/>
<rect x="1641.1" y="492" width="10.6" height="10.6" fill="#000"/>
<rect x="1760.4" y="533.9" width="10.6" height="10.6" fill="#000"/>
<rect x="1709.2" y="565.1" width="10.6" height="10.6" fill="#000"/>
<rect x="1630.5" y="605.7" width="10.6" height="10.6" fill="#000"/>
<rect x="1652.1" y="656.9" width="10.6" height="10.6" fill="#000"/>
<rect x="1564.3" y="725" width="10.6" height="10.6" fill="#000"/>
<text font-size="25.6" font-weight="bold" fill="#000" xml:space="preserve"><tspan x="1523.93" y="32.2" textLength="62.89" lengthAdjust="spacingAndGlyphs">Mass</tspan> <tspan x="1593.78" y="32.2" textLength="178.9" lengthAdjust="spacingAndGlyphs">sedimentation</tspan> <tspan x="1779.5" y="32.2" textLength="49.98" lengthAdjust="spacingAndGlyphs">rate</tspan> <tspan x="1837.97" y="32.2" textLength="22.66" lengthAdjust="spacingAndGlyphs">(g</tspan> <tspan x="1867.52" y="32.2" textLength="36.11" lengthAdjust="spacingAndGlyphs">cm</tspan><tspan x="1903.9" y="23.1" font-size="17" textLength="8.9" lengthAdjust="spacingAndGlyphs">2</tspan> <tspan x="1920.4" y="32.2" textLength="22.74" lengthAdjust="spacingAndGlyphs">yr</tspan><tspan x="1943.96" y="23.1" font-size="17" textLength="15.26" lengthAdjust="spacingAndGlyphs">-1</tspan><tspan x="1962.3" y="32.2" textLength="7.07" lengthAdjust="spacingAndGlyphs">)</tspan></text>
<text x="1389" y="490.74" font-size="26" font-weight="bold" textLength="135.49" lengthAdjust="spacingAndGlyphs" transform="rotate(-90 1389 490.74)" fill="#000">Date (year)</text>
<text x="1772.25" y="459.8" font-size="37.5" font-weight="bold" textLength="152.63" lengthAdjust="spacingAndGlyphs" fill="#000">LIL core</text>
<line x1="1707.2" y1="479.7" x2="1766" y2="479.7" stroke="#000" stroke-width="1.9"/>
<rect x="1730.25" y="472.45" width="14.5" height="14.5" fill="#000"/>
<text font-size="19.4" font-weight="bold" fill="#000" xml:space="preserve"><tspan x="1772.48" y="487" textLength="48.81" lengthAdjust="spacingAndGlyphs">Mass</tspan> <tspan x="1826.39" y="487" textLength="133.06" lengthAdjust="spacingAndGlyphs">sedimentation</tspan> <tspan x="1964.28" y="487" textLength="38.85" lengthAdjust="spacingAndGlyphs">rate</tspan></text>
<polygon points="468.2,943.5 581.1,943.5 581.1,948.8 549,948.8 549,954.7 523.6,954.7 523.6,957.7 563.2,957.7 563.2,961.2 595.3,961.2 595.3,963.8 560.2,963.8 560.2,968.9 529.6,968.9 529.6,973.4 517.6,973.4 517.6,977.2 543,977.2 543,986.4 515.6,986.4 515.6,997.2 521.7,997.2 521.7,1010.2 517,1010.2 517,1030.3 506.9,1030.3 506.9,1052.2 511.5,1052.2 511.5,1073.6 518.4,1073.6 518.4,1093.4 531.4,1093.4 531.4,1130.5 517.7,1130.5 517.7,1213.4 541.4,1213.4 541.4,1324.3 509.9,1324.3 509.9,1422.6 493.2,1422.6 493.2,1501.1 482.4,1501.1 482.4,1539.3 468.2,1539.3" fill="#808080"/>
<path d="M581.1 943.5 L581.1 948.8 L549 948.8 L549 954.7 L523.6 954.7 L523.6 957.7 L563.2 957.7 L563.2 961.2 L595.3 961.2 L595.3 963.8 L560.2 963.8 L560.2 968.9 L529.6 968.9 L529.6 973.4 L517.6 973.4 L517.6 977.2 L543 977.2 L543 986.4 L515.6 986.4 L515.6 997.2 L521.7 997.2 L521.7 1010.2 L517 1010.2 L517 1030.3 L506.9 1030.3 L506.9 1052.2 L511.5 1052.2 L511.5 1073.6 L518.4 1073.6 L518.4 1093.4 L531.4 1093.4 L531.4 1130.5 L517.7 1130.5 L517.7 1213.4 L541.4 1213.4 L541.4 1324.3 L509.9 1324.3 L509.9 1422.6 L493.2 1422.6 L493.2 1501.1 L482.4 1501.1 L482.4 1539.3" fill="none" stroke="#1a1a1a" stroke-width="1.5" stroke-linejoin="miter"/>
<line x1="468.2" y1="943.5" x2="581.1" y2="943.5" stroke="#222" stroke-width="1.5"/>
<rect x="546.7" y="957.6" width="16.5" height="10.6" fill="#333"/>
<line x1="531.8" y1="962.3" x2="595.3" y2="962.3" stroke="#333" stroke-width="3"/>
<line x1="468.9" y1="943.6" x2="733" y2="943.6" stroke="#000" stroke-width="1.3"/>
<line x1="738.9" y1="947.9" x2="758.3" y2="947.9" stroke="#000" stroke-width="1.2"/>
<line x1="716.5" y1="953.8" x2="753.2" y2="953.8" stroke="#000" stroke-width="1.2"/>
<line x1="716.5" y1="957" x2="837" y2="957" stroke="#000" stroke-width="1.2"/>
<line x1="837" y1="958.3" x2="937.4" y2="958.3" stroke="#000" stroke-width="2.5"/>
<line x1="758" y1="965" x2="815.4" y2="965" stroke="#000" stroke-width="1.8"/>
<line x1="742" y1="972.3" x2="847.3" y2="972.3" stroke="#aaa" stroke-width="1.1"/>
<line x1="700.6" y1="976.9" x2="732" y2="976.9" stroke="#000" stroke-width="1.3"/>
<line x1="656" y1="985.7" x2="695.8" y2="985.7" stroke="#000" stroke-width="1.3"/>
<path d="M611.1 1010.6 L592.3 1010.6 L592.3 1030.8 L567.4 1030.8" fill="none" stroke="#000" stroke-width="1.3" stroke-linejoin="miter"/>
<line x1="580.1" y1="1053" x2="580.1" y2="1073.6" stroke="#000" stroke-width="1.3"/>
<line x1="580.1" y1="1073.3" x2="596.7" y2="1073.3" stroke="#c8c8c8" stroke-width="1"/>
<line x1="596.7" y1="1074.3" x2="596.7" y2="1093.7" stroke="#000" stroke-width="1.3"/>
<line x1="531.4" y1="1131.2" x2="565.3" y2="1131.2" stroke="#aaa" stroke-width="1.1"/>
<line x1="523.5" y1="1130.5" x2="523.5" y2="1213.4" stroke="#000" stroke-width="1.3"/>
<line x1="517" y1="1213.4" x2="606.3" y2="1213.4" stroke="#000" stroke-width="1.3"/>
<line x1="606" y1="1213.4" x2="606" y2="1324.3" stroke="#555" stroke-width="1.1"/>
<path d="M606 1324.3 L625.7 1324.3 L625.7 1422.6" fill="none" stroke="#000" stroke-width="1.2" stroke-linejoin="miter"/>
<line x1="561.7" y1="1501.1" x2="621.8" y2="1501.1" stroke="#555" stroke-width="1"/>
<path d="M561.7 1501.1 L561.7 1539.3" fill="none" stroke="#000" stroke-width="1.2" stroke-linejoin="miter"/>
<line x1="468.3" y1="1539.3" x2="562" y2="1539.3" stroke="#000" stroke-width="1.4"/>
<line x1="468.9" y1="920.2" x2="468.9" y2="943.5" stroke="#000" stroke-width="1.3"/>
<line x1="468.9" y1="1539.3" x2="468.9" y2="1576.7" stroke="#000" stroke-width="1.3"/>
<line x1="457.4" y1="989.6" x2="468.9" y2="989.6" stroke="#000" stroke-width="1.6"/>
<line x1="457.4" y1="1136.4" x2="468.9" y2="1136.4" stroke="#000" stroke-width="1.6"/>
<line x1="457.4" y1="1283.2" x2="468.9" y2="1283.2" stroke="#000" stroke-width="1.6"/>
<line x1="457.4" y1="1430" x2="468.9" y2="1430" stroke="#000" stroke-width="1.6"/>
<line x1="462.4" y1="1063" x2="468.9" y2="1063" stroke="#000" stroke-width="1.5"/>
<line x1="462.4" y1="1209.8" x2="468.9" y2="1209.8" stroke="#000" stroke-width="1.5"/>
<line x1="462.4" y1="1356.6" x2="468.9" y2="1356.6" stroke="#000" stroke-width="1.5"/>
<line x1="462.4" y1="1503.2" x2="468.9" y2="1503.2" stroke="#000" stroke-width="1.5"/>
<text x="438.6" y="997.1" font-size="26" font-weight="bold" text-anchor="end" fill="#000">2000</text>
<text x="438.6" y="1143.9" font-size="26" font-weight="bold" text-anchor="end" fill="#000">1950</text>
<text x="438.6" y="1290.7" font-size="26" font-weight="bold" text-anchor="end" fill="#000">1900</text>
<text x="438.6" y="1437.5" font-size="26" font-weight="bold" text-anchor="end" fill="#000">1850</text>
<text x="438.6" y="1584.2" font-size="26" font-weight="bold" text-anchor="end" fill="#000">1800</text>
<line x1="468.2" y1="930.6" x2="989" y2="930.6" stroke="#000" stroke-width="2.4"/>
<line x1="607.5" y1="920" x2="607.5" y2="930.6" stroke="#000" stroke-width="1.3"/>
<line x1="746.1" y1="920" x2="746.1" y2="930.6" stroke="#000" stroke-width="1.3"/>
<line x1="884.7" y1="920" x2="884.7" y2="930.6" stroke="#000" stroke-width="1.3"/>
<line x1="538.2" y1="924.3" x2="538.2" y2="930.6" stroke="#000" stroke-width="1.3"/>
<line x1="676.8" y1="924.3" x2="676.8" y2="930.6" stroke="#000" stroke-width="1.3"/>
<line x1="815.4" y1="924.3" x2="815.4" y2="930.6" stroke="#000" stroke-width="1.3"/>
<line x1="953.9" y1="924.3" x2="953.9" y2="930.6" stroke="#000" stroke-width="1.3"/>
<text x="470.6" y="909.1" font-size="26" font-weight="bold" text-anchor="end" fill="#000">0.00</text>
<text x="609.2" y="909.1" font-size="26" font-weight="bold" text-anchor="end" fill="#000">0.02</text>
<text x="747.8" y="909.1" font-size="26" font-weight="bold" text-anchor="end" fill="#000">0.04</text>
<text x="886.4" y="909.1" font-size="26" font-weight="bold" text-anchor="end" fill="#000">0.06</text>
<line x1="457.4" y1="1576.7" x2="989" y2="1576.7" stroke="#000" stroke-width="2.3"/>
<line x1="567.8" y1="1566.2" x2="567.8" y2="1576.7" stroke="#000" stroke-width="1.5"/>
<line x1="673.1" y1="1566.2" x2="673.1" y2="1576.7" stroke="#000" stroke-width="1.5"/>
<line x1="778.4" y1="1566.2" x2="778.4" y2="1576.7" stroke="#000" stroke-width="1.5"/>
<line x1="883.7" y1="1566.2" x2="883.7" y2="1576.7" stroke="#000" stroke-width="1.5"/>
<line x1="989" y1="1566.2" x2="989" y2="1576.7" stroke="#000" stroke-width="1.5"/>
<line x1="483.56" y1="1570.7" x2="483.56" y2="1576.7" stroke="#000" stroke-width="1.4"/>
<line x1="504.62" y1="1570.7" x2="504.62" y2="1576.7" stroke="#000" stroke-width="1.4"/>
<line x1="525.68" y1="1570.7" x2="525.68" y2="1576.7" stroke="#000" stroke-width="1.4"/>
<line x1="546.74" y1="1570.7" x2="546.74" y2="1576.7" stroke="#000" stroke-width="1.4"/>
<line x1="588.86" y1="1570.7" x2="588.86" y2="1576.7" stroke="#000" stroke-width="1.4"/>
<line x1="609.92" y1="1570.7" x2="609.92" y2="1576.7" stroke="#000" stroke-width="1.4"/>
<line x1="630.98" y1="1570.7" x2="630.98" y2="1576.7" stroke="#000" stroke-width="1.4"/>
<line x1="652.04" y1="1570.7" x2="652.04" y2="1576.7" stroke="#000" stroke-width="1.4"/>
<line x1="694.16" y1="1570.7" x2="694.16" y2="1576.7" stroke="#000" stroke-width="1.4"/>
<line x1="715.22" y1="1570.7" x2="715.22" y2="1576.7" stroke="#000" stroke-width="1.4"/>
<line x1="736.28" y1="1570.7" x2="736.28" y2="1576.7" stroke="#000" stroke-width="1.4"/>
<line x1="757.34" y1="1570.7" x2="757.34" y2="1576.7" stroke="#000" stroke-width="1.4"/>
<line x1="799.46" y1="1570.7" x2="799.46" y2="1576.7" stroke="#000" stroke-width="1.4"/>
<line x1="820.52" y1="1570.7" x2="820.52" y2="1576.7" stroke="#000" stroke-width="1.4"/>
<line x1="841.58" y1="1570.7" x2="841.58" y2="1576.7" stroke="#000" stroke-width="1.4"/>
<line x1="862.64" y1="1570.7" x2="862.64" y2="1576.7" stroke="#000" stroke-width="1.4"/>
<line x1="904.76" y1="1570.7" x2="904.76" y2="1576.7" stroke="#000" stroke-width="1.4"/>
<line x1="925.82" y1="1570.7" x2="925.82" y2="1576.7" stroke="#000" stroke-width="1.4"/>
<line x1="946.88" y1="1570.7" x2="946.88" y2="1576.7" stroke="#000" stroke-width="1.4"/>
<line x1="967.94" y1="1570.7" x2="967.94" y2="1576.7" stroke="#000" stroke-width="1.4"/>
<text x="568.44" y="1611.2" font-size="24" font-weight="bold" textLength="61.17" lengthAdjust="spacingAndGlyphs" fill="#000">0.002</text>
<text x="673.75" y="1611.2" font-size="24" font-weight="bold" textLength="60.4" lengthAdjust="spacingAndGlyphs" fill="#000">0.004</text>
<text x="779.04" y="1611.2" font-size="24" font-weight="bold" textLength="61.17" lengthAdjust="spacingAndGlyphs" fill="#000">0.006</text>
<text x="884.34" y="1611.2" font-size="24" font-weight="bold" textLength="61.17" lengthAdjust="spacingAndGlyphs" fill="#000">0.008</text>
<rect x="727.7" y="938.3" width="10.6" height="10.6" fill="#000"/>
<rect x="753" y="946.3" width="10.6" height="10.6" fill="#000"/>
<rect x="705.8" y="951.1" width="10.6" height="10.6" fill="#000"/>
<rect x="937.3" y="953" width="10.6" height="10.6" fill="#000"/>
<rect x="826.8" y="954.2" width="10.6" height="10.6" fill="#000"/>
<rect x="815.7" y="957" width="10.6" height="10.6" fill="#000"/>
<rect x="821.2" y="958.1" width="10.6" height="10.6" fill="#000"/>
<rect x="747.6" y="960.5" width="10.6" height="10.6" fill="#000"/>
<rect x="855" y="962.5" width="10.6" height="10.6" fill="#000"/>
<rect x="847.2" y="966" width="10.6" height="10.6" fill="#000"/>
<rect x="731.5" y="968.6" width="10.6" height="10.6" fill="#000"/>
<rect x="690.5" y="974.5" width="10.6" height="10.6" fill="#000"/>
<rect x="650.6" y="986.8" width="10.6" height="10.6" fill="#000"/>
<rect x="606.5" y="998" width="10.6" height="10.6" fill="#000"/>
<rect x="587" y="1014.2" width="10.6" height="10.6" fill="#000"/>
<rect x="574.8" y="1057.5" width="10.6" height="10.6" fill="#000"/>
<rect x="591.4" y="1079.1" width="10.6" height="10.6" fill="#000"/>
<rect x="517.9" y="1152.8" width="10.6" height="10.6" fill="#000"/>
<rect x="600.7" y="1262.8" width="10.6" height="10.6" fill="#000"/>
<rect x="620.4" y="1375.8" width="10.6" height="10.6" fill="#000"/>
<rect x="617" y="1458.8" width="10.6" height="10.6" fill="#000"/>
<rect x="556.7" y="1534" width="10.6" height="10.6" fill="#000"/>
<rect x="560.9" y="1037.65" width="12.2" height="10.5" fill="#000"/>
<rect x="559.5" y="1097.4" width="12" height="10.8" fill="#000"/>
<text font-size="25.6" font-weight="bold" fill="#000" xml:space="preserve"><tspan x="575.06" y="855.3" textLength="93.83" lengthAdjust="spacingAndGlyphs">Growth</tspan> <tspan x="676.35" y="855.3" textLength="48.51" lengthAdjust="spacingAndGlyphs">rate</tspan> <tspan x="733.44" y="855.3" textLength="23.45" lengthAdjust="spacingAndGlyphs">(g</tspan> <tspan x="763.33" y="855.3" textLength="35.78" lengthAdjust="spacingAndGlyphs">cm</tspan><tspan x="798.66" y="846.2" font-size="17" textLength="9.68" lengthAdjust="spacingAndGlyphs">2</tspan> <tspan x="816.7" y="855.3" textLength="22.64" lengthAdjust="spacingAndGlyphs">yr</tspan><tspan x="840.37" y="846.2" font-size="17" textLength="15.05" lengthAdjust="spacingAndGlyphs">-1</tspan><tspan x="858.2" y="855.3" textLength="7.07" lengthAdjust="spacingAndGlyphs">)</tspan></text>
<text font-size="25.6" font-weight="bold" fill="#000" xml:space="preserve"><tspan x="454.81" y="1651.6" textLength="114.32" lengthAdjust="spacingAndGlyphs">Inorganic</tspan> <tspan x="575.81" y="1651.6" textLength="103.48" lengthAdjust="spacingAndGlyphs">material</tspan> <tspan x="685.79" y="1651.6" textLength="130.66" lengthAdjust="spacingAndGlyphs">deposition</tspan> <tspan x="823.89" y="1651.6" textLength="50.3" lengthAdjust="spacingAndGlyphs">rate</tspan> <tspan x="882.8" y="1651.6" textLength="22.09" lengthAdjust="spacingAndGlyphs">(g</tspan> <tspan x="911.51" y="1651.6" textLength="36.75" lengthAdjust="spacingAndGlyphs">cm</tspan><tspan x="947.64" y="1642.5" font-size="17" textLength="10.01" lengthAdjust="spacingAndGlyphs">2</tspan> <tspan x="966.1" y="1651.6" textLength="22.84" lengthAdjust="spacingAndGlyphs">yr</tspan><tspan x="989.49" y="1642.5" font-size="17" textLength="14.41" lengthAdjust="spacingAndGlyphs">-1</tspan><tspan x="1006.5" y="1651.6" textLength="8.41" lengthAdjust="spacingAndGlyphs">)</tspan></text>
<text x="358.7" y="1323.61" font-size="26" font-weight="bold" textLength="133.24" lengthAdjust="spacingAndGlyphs" transform="rotate(-90 358.7 1323.61)" fill="#000">Date (year)</text>
<text x="666.25" y="1148.3" font-size="37.5" font-weight="bold" textLength="343.96" lengthAdjust="spacingAndGlyphs" fill="#000">LIP core (peatbog)</text>
<line x1="608.8" y1="1171.6" x2="667.3" y2="1171.6" stroke="#000" stroke-width="1.9"/>
<rect x="630.7" y="1164.1" width="15" height="15" fill="#000"/>
<text font-size="19.4" font-weight="bold" fill="#000" xml:space="preserve"><tspan x="680.73" y="1178.7" textLength="64.16" lengthAdjust="spacingAndGlyphs">Growth</tspan> <tspan x="750.02" y="1178.7" textLength="43.37" lengthAdjust="spacingAndGlyphs">rate</tspan></text>
<rect x="630.3" y="1194.9" width="15.4" height="14.3" fill="#808080"/>
<text font-size="19.4" font-weight="bold" fill="#000" xml:space="preserve"><tspan x="680.07" y="1210.3" textLength="88.93" lengthAdjust="spacingAndGlyphs">Inorganic</tspan> <tspan x="774.26" y="1210.3" textLength="75.91" lengthAdjust="spacingAndGlyphs">material</tspan> <tspan x="855.7" y="1210.3" textLength="69.72" lengthAdjust="spacingAndGlyphs">fraction</tspan></text>
<polygon points="1188.2,954.5 1306.2,954.5 1306.2,974.3 1317.3,974.3 1317.3,1010.9 1564.5,1010.9 1564.5,1039.6 1334.2,1039.6 1334.2,1075.4 1323,1075.4 1323,1110.6 1328.1,1110.6 1328.1,1135.7 1317.3,1135.7 1317.3,1173.4 1294.7,1173.4 1294.7,1211 1300.8,1211 1300.8,1251.1 1294.7,1251.1 1294.7,1296.7 1334.2,1296.7 1334.2,1373.8 1311.6,1373.8 1311.6,1422.2 1294.7,1422.2 1294.7,1467.4 1328.1,1467.4 1328.1,1529.9 1261,1529.9 1261,1573.3 1188.2,1573.3" fill="url(#h1)"/>
<line x1="1187.65" y1="954.5" x2="1306.75" y2="954.5" stroke="#555" stroke-width="1.1"/>
<line x1="1317.3" y1="974.3" x2="1317.3" y2="1010.9" stroke="#555" stroke-width="1.1"/>
<line x1="1316.75" y1="1010.9" x2="1565.05" y2="1010.9" stroke="#000" stroke-width="1.1"/>
<line x1="1564.5" y1="1010.9" x2="1564.5" y2="1039.6" stroke="#000" stroke-width="1.1"/>
<line x1="1333.65" y1="1039.6" x2="1565.05" y2="1039.6" stroke="#000" stroke-width="1.1"/>
<line x1="1334.2" y1="1039.6" x2="1334.2" y2="1075.4" stroke="#000" stroke-width="1.1"/>
<line x1="1322.45" y1="1075.4" x2="1334.75" y2="1075.4" stroke="#aaa" stroke-width="1.1"/>
<line x1="1328.1" y1="1110.6" x2="1328.1" y2="1135.7" stroke="#555" stroke-width="1.1"/>
<line x1="1317.3" y1="1135.7" x2="1317.3" y2="1173.4" stroke="#000" stroke-width="1.1"/>
<line x1="1294.15" y1="1173.4" x2="1317.85" y2="1173.4" stroke="#000" stroke-width="1.1"/>
<line x1="1294.7" y1="1173.4" x2="1294.7" y2="1211" stroke="#000" stroke-width="1.1"/>
<line x1="1294.15" y1="1211" x2="1301.35" y2="1211" stroke="#000" stroke-width="1.1"/>
<line x1="1300.8" y1="1211" x2="1300.8" y2="1251.1" stroke="#000" stroke-width="1.1"/>
<line x1="1294.15" y1="1251.1" x2="1301.35" y2="1251.1" stroke="#000" stroke-width="1.1"/>
<line x1="1294.7" y1="1251.1" x2="1294.7" y2="1296.7" stroke="#000" stroke-width="1.1"/>
<line x1="1294.15" y1="1296.7" x2="1334.75" y2="1296.7" stroke="#000" stroke-width="1.1"/>
<line x1="1334.2" y1="1296.7" x2="1334.2" y2="1373.8" stroke="#000" stroke-width="1.1"/>
<line x1="1311.05" y1="1373.8" x2="1334.75" y2="1373.8" stroke="#000" stroke-width="1.1"/>
<line x1="1311.6" y1="1373.8" x2="1311.6" y2="1422.2" stroke="#000" stroke-width="1.1"/>
<line x1="1294.7" y1="1422.2" x2="1294.7" y2="1467.4" stroke="#000" stroke-width="1.1"/>
<line x1="1294.15" y1="1467.4" x2="1328.65" y2="1467.4" stroke="#000" stroke-width="1.1"/>
<line x1="1328.1" y1="1467.4" x2="1328.1" y2="1529.9" stroke="#000" stroke-width="1.1"/>
<line x1="1260.45" y1="1529.9" x2="1328.65" y2="1529.9" stroke="#000" stroke-width="1.1"/>
<line x1="1261" y1="1529.9" x2="1261" y2="1573.3" stroke="#000" stroke-width="1.1"/>
<line x1="1188.2" y1="926.4" x2="1188.2" y2="1616.5" stroke="#000" stroke-width="1.4"/>
<line x1="1177.2" y1="995" x2="1188.2" y2="995" stroke="#000" stroke-width="1.4"/>
<line x1="1177.2" y1="1150.45" x2="1188.2" y2="1150.45" stroke="#000" stroke-width="1.4"/>
<line x1="1177.2" y1="1305.9" x2="1188.2" y2="1305.9" stroke="#000" stroke-width="1.4"/>
<line x1="1177.2" y1="1461.35" x2="1188.2" y2="1461.35" stroke="#000" stroke-width="1.4"/>
<line x1="1177.2" y1="1616.8" x2="1188.2" y2="1616.8" stroke="#000" stroke-width="1.4"/>
<line x1="1183.2" y1="1072.72" x2="1188.2" y2="1072.72" stroke="#000" stroke-width="1.4"/>
<line x1="1183.2" y1="1228.18" x2="1188.2" y2="1228.18" stroke="#000" stroke-width="1.4"/>
<line x1="1183.2" y1="1383.62" x2="1188.2" y2="1383.62" stroke="#000" stroke-width="1.4"/>
<line x1="1183.2" y1="1539.07" x2="1188.2" y2="1539.07" stroke="#000" stroke-width="1.4"/>
<text x="1157.4" y="1002.5" font-size="26" font-weight="bold" text-anchor="end" fill="#000">2000</text>
<text x="1157.4" y="1157.95" font-size="26" font-weight="bold" text-anchor="end" fill="#000">1950</text>
<text x="1157.4" y="1313.4" font-size="26" font-weight="bold" text-anchor="end" fill="#000">1900</text>
<text x="1157.4" y="1468.85" font-size="26" font-weight="bold" text-anchor="end" fill="#000">1850</text>
<text x="1157.4" y="1624.3" font-size="26" font-weight="bold" text-anchor="end" fill="#000">1800</text>
<line x1="1187.5" y1="933.1" x2="1695.3" y2="933.1" stroke="#000" stroke-width="1.6"/>
<line x1="1244.48" y1="922.2" x2="1244.48" y2="933.1" stroke="#000" stroke-width="1.5"/>
<line x1="1357.04" y1="922.2" x2="1357.04" y2="933.1" stroke="#000" stroke-width="1.5"/>
<line x1="1469.6" y1="922.2" x2="1469.6" y2="933.1" stroke="#000" stroke-width="1.5"/>
<line x1="1582.16" y1="922.2" x2="1582.16" y2="933.1" stroke="#000" stroke-width="1.5"/>
<line x1="1694.72" y1="922.2" x2="1694.72" y2="933.1" stroke="#000" stroke-width="1.5"/>
<line x1="1300.76" y1="926.4" x2="1300.76" y2="933.1" stroke="#000" stroke-width="1.5"/>
<line x1="1413.32" y1="926.4" x2="1413.32" y2="933.1" stroke="#000" stroke-width="1.5"/>
<line x1="1525.88" y1="926.4" x2="1525.88" y2="933.1" stroke="#000" stroke-width="1.5"/>
<line x1="1638.44" y1="926.4" x2="1638.44" y2="933.1" stroke="#000" stroke-width="1.5"/>
<text x="1244.48" y="923.3" font-size="26" font-weight="bold" text-anchor="end" fill="#000">0.00</text>
<text x="1357.04" y="923.3" font-size="26" font-weight="bold" text-anchor="end" fill="#000">0.02</text>
<text x="1469.6" y="923.3" font-size="26" font-weight="bold" text-anchor="end" fill="#000">0.04</text>
<text x="1582.16" y="923.3" font-size="26" font-weight="bold" text-anchor="end" fill="#000">0.06</text>
<text x="1694.72" y="923.3" font-size="26" font-weight="bold" text-anchor="end" fill="#000">0.08</text>
<line x1="1300.8" y1="987.2" x2="1300.8" y2="997.2" stroke="#000" stroke-width="1.25"/>
<line x1="1300.8" y1="992.2" x2="1334.9" y2="992.2" stroke="#000" stroke-width="1.25"/>
<line x1="1334.9" y1="987.2" x2="1334.9" y2="997.2" stroke="#555" stroke-width="1.25"/>
<line x1="1491.3" y1="1023.8" x2="1491.3" y2="1033.8" stroke="#000" stroke-width="1.25"/>
<line x1="1491.3" y1="1028.8" x2="1637.7" y2="1028.8" stroke="#000" stroke-width="1.25"/>
<line x1="1637.7" y1="1023.8" x2="1637.7" y2="1033.8" stroke="#000" stroke-width="1.25"/>
<line x1="1317.3" y1="1045.7" x2="1317.3" y2="1055.7" stroke="#555" stroke-width="1.25"/>
<line x1="1351" y1="1045.7" x2="1351" y2="1055.7" stroke="#000" stroke-width="1.25"/>
<line x1="1306.5" y1="1100.2" x2="1339.5" y2="1100.2" stroke="#000" stroke-width="1.25"/>
<line x1="1351" y1="1117.4" x2="1351" y2="1127.4" stroke="#555" stroke-width="1.25"/>
<line x1="1300.8" y1="1145.4" x2="1300.8" y2="1155.4" stroke="#000" stroke-width="1.25"/>
<line x1="1300.8" y1="1150.4" x2="1334.9" y2="1150.4" stroke="#000" stroke-width="1.25"/>
<line x1="1334.9" y1="1145.4" x2="1334.9" y2="1155.4" stroke="#000" stroke-width="1.25"/>
<line x1="1284" y1="1191.7" x2="1284" y2="1201.7" stroke="#aaa" stroke-width="1.25"/>
<line x1="1284" y1="1196.7" x2="1305.5" y2="1196.7" stroke="#d0d0d0" stroke-width="1.25"/>
<line x1="1284" y1="1220.4" x2="1284" y2="1230.4" stroke="#000" stroke-width="1.25"/>
<line x1="1284" y1="1225.4" x2="1318" y2="1225.4" stroke="#000" stroke-width="1.25"/>
<line x1="1318" y1="1220.4" x2="1318" y2="1230.4" stroke="#000" stroke-width="1.25"/>
<line x1="1277.8" y1="1273.4" x2="1277.8" y2="1283.4" stroke="#000" stroke-width="1.25"/>
<line x1="1311.6" y1="1273.4" x2="1311.6" y2="1283.4" stroke="#000" stroke-width="1.25"/>
<line x1="1300.8" y1="1310.3" x2="1300.8" y2="1320.3" stroke="#000" stroke-width="1.25"/>
<line x1="1300.8" y1="1315.3" x2="1367.5" y2="1315.3" stroke="#000" stroke-width="1.25"/>
<line x1="1367.5" y1="1310.3" x2="1367.5" y2="1320.3" stroke="#000" stroke-width="1.25"/>
<line x1="1300.8" y1="1347.6" x2="1300.8" y2="1357.6" stroke="#000" stroke-width="1.25"/>
<line x1="1367.5" y1="1347.6" x2="1367.5" y2="1357.6" stroke="#000" stroke-width="1.25"/>
<line x1="1290" y1="1396" x2="1334.9" y2="1396" stroke="#000" stroke-width="1.25"/>
<line x1="1334.9" y1="1391" x2="1334.9" y2="1401" stroke="#000" stroke-width="1.25"/>
<line x1="1277.8" y1="1444.5" x2="1277.8" y2="1454.5" stroke="#000" stroke-width="1.25"/>
<line x1="1277.8" y1="1449.5" x2="1311.6" y2="1449.5" stroke="#000" stroke-width="1.25"/>
<line x1="1311.6" y1="1444.5" x2="1311.6" y2="1454.5" stroke="#000" stroke-width="1.25"/>
<line x1="1290" y1="1486.1" x2="1367.5" y2="1486.1" stroke="#aaa" stroke-width="1.25"/>
<line x1="1367.5" y1="1481.1" x2="1367.5" y2="1491.1" stroke="#000" stroke-width="1.25"/>
<line x1="1244.5" y1="1568.3" x2="1244.5" y2="1578.3" stroke="#000" stroke-width="1.25"/>
<line x1="1277.8" y1="1568.3" x2="1277.8" y2="1578.3" stroke="#000" stroke-width="1.25"/>
<rect x="1300.9" y="949.2" width="10.6" height="10.6" fill="#000"/>
<rect x="1312" y="986.9" width="10.6" height="10.6" fill="#000"/>
<rect x="1559.2" y="1023.5" width="10.6" height="10.6" fill="#000"/>
<rect x="1328.9" y="1045.4" width="10.6" height="10.6" fill="#000"/>
<rect x="1317.7" y="1094.9" width="10.6" height="10.6" fill="#000"/>
<rect x="1322.8" y="1117.1" width="10.6" height="10.6" fill="#000"/>
<rect x="1312" y="1145.1" width="10.6" height="10.6" fill="#000"/>
<rect x="1289.4" y="1191.4" width="10.6" height="10.6" fill="#000"/>
<rect x="1295.5" y="1220.1" width="10.6" height="10.6" fill="#000"/>
<rect x="1289.4" y="1273.1" width="10.6" height="10.6" fill="#000"/>
<rect x="1328.9" y="1310" width="10.6" height="10.6" fill="#000"/>
<rect x="1328.9" y="1347.3" width="10.6" height="10.6" fill="#000"/>
<rect x="1306.3" y="1390.7" width="10.6" height="10.6" fill="#000"/>
<rect x="1289.4" y="1444.2" width="10.6" height="10.6" fill="#000"/>
<rect x="1322.8" y="1480.8" width="10.6" height="10.6" fill="#000"/>
<rect x="1255.7" y="1568" width="10.6" height="10.6" fill="#000"/>
<text font-size="25.6" font-weight="bold" fill="#000" xml:space="preserve"><tspan x="1233.23" y="862.3" textLength="62.89" lengthAdjust="spacingAndGlyphs">Mass</tspan> <tspan x="1303.08" y="862.3" textLength="178.9" lengthAdjust="spacingAndGlyphs">sedimentation</tspan> <tspan x="1488.8" y="862.3" textLength="49.98" lengthAdjust="spacingAndGlyphs">rate</tspan> <tspan x="1547.27" y="862.3" textLength="22.66" lengthAdjust="spacingAndGlyphs">(g</tspan> <tspan x="1576.82" y="862.3" textLength="36.11" lengthAdjust="spacingAndGlyphs">cm</tspan><tspan x="1613.2" y="853.2" font-size="17" textLength="8.9" lengthAdjust="spacingAndGlyphs">2</tspan> <tspan x="1629.7" y="862.3" textLength="22.74" lengthAdjust="spacingAndGlyphs">yr</tspan><tspan x="1653.26" y="853.2" font-size="17" textLength="15.26" lengthAdjust="spacingAndGlyphs">-1</tspan><tspan x="1671.6" y="862.3" textLength="7.07" lengthAdjust="spacingAndGlyphs">)</tspan></text>
<text x="1077.7" y="1340.64" font-size="26" font-weight="bold" textLength="136" lengthAdjust="spacingAndGlyphs" transform="rotate(-90 1077.7 1340.64)" fill="#000">Date (year)</text>
<text x="1431.07" y="1217.1" font-size="37.5" font-weight="bold" textLength="149.1" lengthAdjust="spacingAndGlyphs" fill="#000">BA core</text>
<line x1="1369.3" y1="1241.5" x2="1427.4" y2="1241.5" stroke="#000" stroke-width="1.3"/>
<rect x="1390.5" y="1234" width="15" height="15" fill="#000"/>
<text font-size="19.4" font-weight="bold" fill="#000" xml:space="preserve"><tspan x="1433.38" y="1248.7" textLength="48.81" lengthAdjust="spacingAndGlyphs">Mass</tspan> <tspan x="1487.29" y="1248.7" textLength="133.06" lengthAdjust="spacingAndGlyphs">sedimentation</tspan> <tspan x="1625.18" y="1248.7" textLength="38.85" lengthAdjust="spacingAndGlyphs">rate</tspan></text>
</svg>
</body></html>
